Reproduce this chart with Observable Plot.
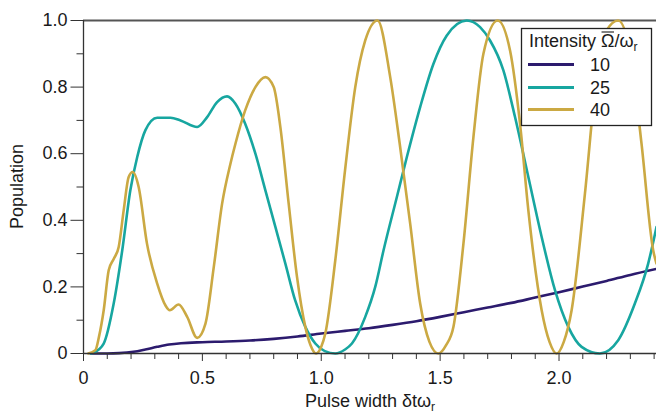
<!DOCTYPE html>
<html><head><meta charset="utf-8">
<script src="https://cdn.jsdelivr.net/npm/d3@7"></script>
<script src="https://cdn.jsdelivr.net/npm/@observablehq/plot@0.6"></script>
<style>html,body{margin:0;padding:0;background:#fff} svg{display:block}</style>
</head><body><div id="chart"></div>
<script>
const series = ["10", "25", "40"];
const colors = ["#2c1b6e", "#17a6a0", "#cba943"];

// Intensity 10
const t10 = [0.03, 0.1, 0.15, 0.21, 0.26, 0.31, 0.36, 0.41, 0.5, 0.6, 0.7, 0.8, 0.9, 1.0, 1.1, 1.2, 1.3, 1.4, 1.5, 1.6, 1.7, 1.8, 1.9, 2.0, 2.1, 2.2, 2.3, 2.41];
const p10 = [0, 0, 0.001, 0.005, 0.012, 0.02, 0.027, 0.031, 0.034, 0.036, 0.039, 0.044, 0.051, 0.06, 0.068, 0.076, 0.086, 0.097, 0.11, 0.124, 0.138, 0.152, 0.168, 0.184, 0.201, 0.218, 0.236, 0.254];

// Intensity 25
const t25 = [0.03, 0.043, 0.085, 0.127, 0.163, 0.197, 0.226, 0.26, 0.31, 0.366, 0.408, 0.478, 0.52, 0.562, 0.604, 0.639, 0.68, 0.723, 0.765, 0.807, 0.849, 0.89, 0.933, 0.975, 1.015, 1.059, 1.10, 1.129, 1.185, 1.227, 1.262, 1.318, 1.36, 1.416, 1.472, 1.528, 1.612, 1.668, 1.71, 1.766, 1.815, 1.871, 1.927, 1.983, 2.039, 2.095, 2.172, 2.249, 2.319, 2.375, 2.41];
const p25 = [0, 0.003, 0.03, 0.15, 0.31, 0.49, 0.59, 0.67, 0.708, 0.708, 0.70, 0.68, 0.71, 0.755, 0.772, 0.75, 0.69, 0.60, 0.49, 0.38, 0.27, 0.16, 0.08, 0.03, 0.007, 0.0, 0.012, 0.03, 0.11, 0.2, 0.31, 0.47, 0.59, 0.74, 0.87, 0.955, 1.0, 0.98, 0.94, 0.85, 0.71, 0.53, 0.35, 0.19, 0.08, 0.02, 0.0, 0.04, 0.15, 0.27, 0.38];

// Intensity 40
const t40 = [0.02, 0.05, 0.065, 0.085, 0.106, 0.127, 0.148, 0.169, 0.19, 0.207, 0.232, 0.267, 0.31, 0.345, 0.363, 0.40, 0.436, 0.478, 0.513, 0.548, 0.583, 0.618, 0.639, 0.68, 0.723, 0.765, 0.80, 0.828, 0.863, 0.898, 0.933, 0.955, 0.978, 1.0, 1.017, 1.059, 1.10, 1.143, 1.185, 1.237, 1.29, 1.33, 1.374, 1.416, 1.455, 1.493, 1.525, 1.556, 1.598, 1.64, 1.682, 1.742, 1.794, 1.836, 1.871, 1.927, 1.96, 1.99, 2.02, 2.053, 2.109, 2.158, 2.2, 2.249, 2.305, 2.347, 2.396, 2.41];
const p40 = [0, 0.01, 0.05, 0.13, 0.25, 0.284, 0.32, 0.43, 0.53, 0.545, 0.50, 0.33, 0.21, 0.144, 0.13, 0.147, 0.11, 0.047, 0.09, 0.26, 0.45, 0.57, 0.63, 0.73, 0.80, 0.83, 0.80, 0.68, 0.45, 0.23, 0.08, 0.025, 0.0, 0.02, 0.06, 0.28, 0.55, 0.80, 0.94, 1.0, 0.83, 0.63, 0.39, 0.15, 0.035, 0.0, 0.025, 0.08, 0.33, 0.65, 0.90, 1.0, 0.91, 0.69, 0.43, 0.13, 0.035, 0.0, 0.035, 0.13, 0.48, 0.83, 0.97, 1.0, 0.88, 0.63, 0.31, 0.27];

const xTicks = [0, 0.5, 1, 1.5, 2];
const xTickLabels = ["0", "0.5", "1.0", "1.5", "2.0"];
const xMinor = [0.1, 0.2, 0.3, 0.4, 0.6, 0.7, 0.8, 0.9, 1.1, 1.2, 1.3, 1.4, 1.6, 1.7, 1.8, 1.9, 2.1, 2.2, 2.3, 2.4];
const yTicks = [0, 0.2, 0.4, 0.6, 0.8, 1];
const yTickLabels = ["0", "0.2", "0.4", "0.6", "0.8", "1.0"];
const yMinor = [0.1, 0.3, 0.5, 0.7, 0.9];

const rows = [];
[[t10, p10], [t25, p25], [t40, p40]].forEach(([t, p], i) =>
  t.forEach((x, j) => rows.push({series: series[i], x, y: p[j]})));

const FONT = "'Liberation Sans', Arial, Helvetica, sans-serif";
const INK = "#1a1a1a";

const chart = Plot.plot({
  width: 656, height: 414,
  marginLeft: 83, marginRight: 0, marginTop: 20, marginBottom: 61,
  style: {fontFamily: FONT, fontSize: "18px", background: "#fff", color: INK, overflow: "visible"},
  x: {domain: [0, 2.41]},
  y: {domain: [0, 1]},
  color: {domain: series, range: colors},
  marks: [
    Plot.axisX({ticks: xMinor, tickSize: 6, tickFormat: () => "", label: null, stroke: "#333"}),
    Plot.axisX({ticks: xTicks, tickSize: 8, tickPadding: 10, tickFormat: d => xTickLabels[xTicks.indexOf(d)], label: null, stroke: "#333", fontSize: 18, fill: INK}),
    Plot.axisY({ticks: yMinor, tickSize: 6.5, tickFormat: () => "", label: null, stroke: "#333"}),
    Plot.axisY({ticks: yTicks, tickSize: 12.5, tickPadding: 3.5, tickFormat: d => yTickLabels[yTicks.indexOf(d)], label: null, stroke: "#333", fontSize: 18, fill: INK}),
    Plot.ruleY([1], {stroke: "#555", strokeWidth: 1.8}),
    Plot.line(rows, {x: "x", y: "y", z: "series", stroke: "series", strokeWidth: 2.6, curve: "monotone-x"}),
    Plot.ruleY([0], {stroke: "#333", strokeWidth: 1.3}),
    Plot.ruleX([0], {stroke: "#333", strokeWidth: 1.3})
  ]
});

document.getElementById("chart").appendChild(chart);
const svg = d3.select(chart);

// x label
const xl = svg.append("text")
  .attr("x", 370).attr("y", 407)
  .attr("text-anchor", "middle").style("text-anchor", "middle")
  .style("font-family", FONT).style("font-size", "18px").style("fill", INK);
xl.append("tspan").text("Pulse width δtω");
xl.append("tspan").text("r").attr("dy", 3.5).style("font-size", "12px");

// y label
svg.append("text")
  .attr("transform", "translate(23,186.5) rotate(-90)")
  .style("text-anchor", "middle")
  .style("font-family", FONT).style("font-size", "18px").style("fill", INK)
  .text("Population");

// legend
const lg = svg.append("g");
lg.append("rect").attr("x", 521.5).attr("y", 28.5).attr("width", 130).attr("height", 97)
  .style("fill", "#fff").style("stroke", "#222").style("stroke-width", 1.3);
const title = lg.append("text").attr("x", 529).attr("y", 47)
  .style("text-anchor", "start")
  .style("font-family", FONT).style("font-size", "18px").style("fill", INK);
title.append("tspan").text("Intensity Ω/ω");
title.append("tspan").text("r").attr("dy", 4).style("font-size", "12px");
try {
  const node = title.node();
  const ext = node.getExtentOfChar(10);
  lg.append("line")
    .attr("x1", ext.x + 0.5).attr("x2", ext.x + ext.width - 0.5)
    .attr("y1", 32).attr("y2", 32)
    .style("stroke", INK).style("stroke-width", 1.1);
} catch (e) {}
const ly = [64.5, 87.5, 109.5];
series.forEach((s, i) => {
  lg.append("line").attr("x1", 528).attr("x2", 574).attr("y1", ly[i]).attr("y2", ly[i])
    .style("stroke", colors[i]).style("stroke-width", 2.8);
  lg.append("text").attr("x", 590).attr("y", ly[i]).attr("dy", "0.36em")
    .style("text-anchor", "start")
    .style("font-family", FONT).style("font-size", "18px").style("fill", INK).text(s);
});
</script>
</body></html>
